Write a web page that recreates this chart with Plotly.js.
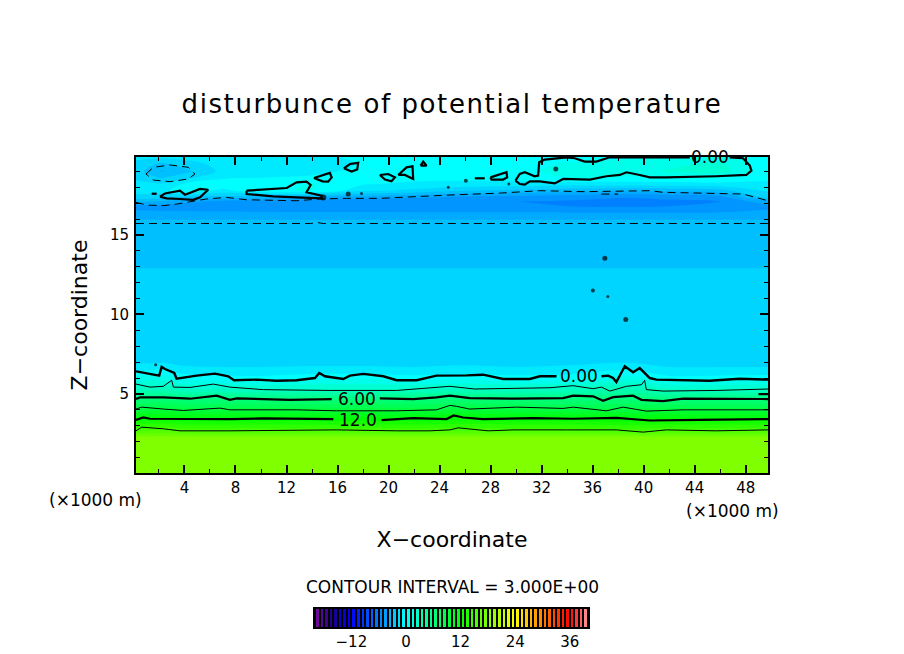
<!DOCTYPE html>
<html><head><meta charset="utf-8">
<script src="https://cdn.plot.ly/plotly-3.0.1.min.js"></script>
<style>
html,body{margin:0;padding:0;background:#fff}
.gtitle{letter-spacing:1.6px}
</style></head><body><div id="chart" style="width:904px;height:654px"></div>
<script>
// Temperature field (x in 1000 m, z in 1000 m)
const fieldX=[0.2,2.2,4,7,10,14,18,22,26,30,34,38.8,42,46,49.75];
const fieldY=[0.03,1,2.3,2.75,3.4,4,4.7,5.3,6,6.5,7,10,12.6,13.2,15,15.8,16.3,16.8,17.1,17.4,17.8,18.2,18.6,19,19.5,19.9];
const fieldZ=[
[17.8,18,17.7,18,18,17.8,18,18,17.8,18,18,17.8,18,18,17.7],
[17.7,17.9,17.9,18,18,18,17.9,18,17.8,18,17.9,18,18,17.9,17.8],
[17.6,17.7,17.6,17.6,17.6,17.6,17.6,17.6,17.6,17.6,17.6,17.6,17.6,17.6,17.6],
[15,15.4,15,15,15,15,15,15,15.1,15,15,14.8,15,15,15],
[12,12.2,12,12,12,12,12,12,12.3,12,12,11.9,12,12,12],
[9,9.3,9,9,9,9,9,9,9.3,9.1,9,8.9,9,9,9],
[6,6.3,6,6,6,6,6,6,6.2,6.1,6,6.2,5.9,6,6],
[2.7,3.1,2.6,2.6,2.5,2.5,2.5,2.6,2.7,2.7,2.8,3.4,2.5,2.6,2.6],
[0.9,1.1,0.2,-0.1,-0.2,0.2,0.3,-0.1,0.2,-0.1,0.1,0.9,-0.2,-0.1,0],
[-0.9,-0.3,-1.2,-1.3,-1.3,-1.2,-1.2,-1.3,-1.2,-1.3,-1.2,-0.5,-1.3,-1.3,-1.3],
[-1.7,-1.6,-1.8,-1.8,-1.8,-1.8,-1.8,-1.8,-1.7,-1.8,-1.7,-1.6,-1.8,-1.8,-1.8],
[-1.9,-1.9,-1.9,-1.9,-1.9,-1.9,-1.9,-1.9,-1.9,-1.9,-1.9,-1.9,-1.9,-1.9,-1.9],
[-2.2,-2.2,-2.2,-2.2,-2.2,-2.2,-2.2,-2.2,-2.2,-2.2,-2.2,-2.2,-2.2,-2.2,-2.2],
[-2.8,-2.8,-2.8,-2.8,-2.8,-2.8,-2.8,-2.8,-2.8,-2.8,-2.8,-2.8,-2.8,-2.8,-2.8],
[-3,-3,-3,-3,-3,-3,-3,-3,-3,-3,-3,-3,-3,-3,-3],
[-3.2,-3.2,-3.2,-3.2,-3.2,-3.2,-3.2,-3.2,-3.2,-3.2,-3.2,-3.2,-3.2,-3.2,-3.2],
[-4.2,-4.2,-4.2,-4.2,-4.2,-4.2,-4.2,-4.2,-4.2,-4.2,-4.2,-4.2,-4.2,-4.2,-4.2],
[-4.8,-4.9,-5,-5.1,-5.2,-5.3,-5.3,-5.4,-5.4,-5.4,-5.5,-5.6,-5.5,-5.4,-4.7],
[-3.3,-3.6,-4.2,-4.8,-5,-5.2,-5.3,-5.4,-5.5,-5.5,-5.6,-5.8,-5.7,-5.5,-3.8],
[-1.8,-2,-2.5,-2.7,-3.1,-3.4,-3.9,-4.2,-4.6,-4.8,-5.1,-5.4,-5.2,-4.8,-2],
[-1,-1,0.3,-0.8,0.3,0.6,-1.2,-1.7,-2.4,-2.7,-3,-3.2,-3.1,-2.8,-1.4],
[-1,-1.4,-0.4,0.3,-0.2,0.6,-0.4,-0.7,-0.8,-0.9,-1,-1,-0.9,-0.8,-0.7],
[-1.8,-2.6,-1.8,-0.7,-0.5,-0.3,-0.2,-0.2,-0.2,-0.1,0.5,0.4,0.4,0.5,-0.3],
[-2,-3.6,-2.8,-1.2,-0.9,-0.8,-0.2,-0.1,-0.1,0.1,0.9,1,1.6,2,-0.3],
[-1.8,-2.6,-2,-1,-0.9,-1.1,-0.4,-0.1,0,0.1,0.6,0.8,1.2,1.7,-0.2],
[-1.2,-1.2,-1,-0.5,-0.5,-0.6,-0.4,-0.2,-0.1,0,0.1,0.3,0.5,0.6,-0.2]
];
// Contour lines
const line0X=[0.2,1.03,2.02,2.21,2.47,3.2,3.38,4.95,6.39,7.43,7.88,9.65,11.22,12.79,14.23,14.57,15.01,16.45,16.97,18.02,19.59,20.63,22.2,23.76,24.81,26.11,27.41,28.98,31.08,31.86,33.17,null,36.69,37.22,37.6,37.86,38.52,39.17,39.69,40.48,41,45.18,47.53,49.75];
const line0Y=[6.42,6.28,6.15,6.7,6.57,6.32,5.96,6.15,6.28,6.11,5.86,5.9,5.83,5.86,6,6.32,6.11,5.94,6.15,6.26,6.11,5.86,5.86,6.15,6.15,6.17,6.21,5.94,5.94,6.11,6.11,null,6.11,6.15,6,5.75,6.74,6.36,6.63,6,5.9,5.83,5.96,5.9];
const line3X=[0.2,1.3,2.34,3,3.13,4.44,6.26,7.56,10.18,15.4,20.63,24.02,24.81,26.76,30.03,32.64,34.47,36.04,36.69,37.35,38.65,39.83,40.08,40.21,41.52,45.7,49.75];
const line3Y=[5.62,5.43,5.48,5.86,5.43,5.41,5.62,5.43,5.27,5.22,5.22,5.43,5.48,5.31,5.35,5.39,5.52,5.33,5.43,5.18,5.48,5.58,5.86,5.27,5.18,5.22,5.31];
const line6X=[0.2,0.52,2.34,4.44,6.52,7.56,8.09,12.26,15.54,null,19.32,21.93,23.76,24.81,26.37,30.03,33.69,34.47,36.04,36.82,37.6,39.17,39.83,41.52,43.09,47.01,49.75,null,49,49.75];
const line6Y=[4.68,4.78,4.78,4.7,4.89,4.63,4.72,4.63,4.68,null,4.72,4.68,4.78,4.89,4.74,4.7,4.74,4.89,4.85,4.57,4.8,4.89,4.63,4.55,4.7,4.68,4.68,null,4.99,4.99];
const line9X=[0.2,0.65,2.34,3.91,6.79,7.56,12.79,15.92,20.63,23.76,24.81,25.33,26.37,30.03,33.69,34.47,37.08,38.39,40.21,43.09,49.75];
const line9Y=[4.05,4.17,4.05,3.96,4.11,4,4,3.94,3.94,4,4.28,4.22,4.05,4.17,4.09,4.17,3.94,4.17,3.92,4,4];
const line12X=[0.2,0.77,1.3,3.65,4.95,7.56,10.18,15.67,null,19.45,21.93,24.55,25.1,25.85,27.41,31.33,34.47,37.86,40.48,44.4,49.75];
const line12Y=[3.37,3.52,3.44,3.42,3.44,3.42,3.46,3.42,null,3.35,3.48,3.42,3.65,3.52,3.42,3.48,3.44,3.5,3.33,3.37,3.42];
const line15X=[0.2,0.65,2.34,3.65,7.56,12.79,15.92,20.63,23.24,24.81,25.46,27.81,29.77,33.95,37.86,39.96,41.78,45.7,49.75];
const line15Y=[2.68,2.91,2.81,2.68,2.68,2.74,2.74,2.68,2.68,2.74,2.87,2.68,2.74,2.74,2.74,2.6,2.74,2.68,2.74];
// Closed zero contours in the upper layer, separated by nulls
const topZeroX=[2.08,2.47,3.65,4.04,5.22,5.86,5.22,4.69,3.65,2.6,2.08,null,
8.87,10.05,12.01,12.79,13.57,13.89,13.57,14.75,14.75,12.79,10.96,8.87,8.87,null,
14.15,14.88,15.4,15.54,15.27,14.82,14.15,null,
16.5,16.97,17.62,17.54,17.1,16.5,null,
19.32,19.97,20.5,20.23,19.72,19.32,null,
20.76,21.41,21.88,21.93,21.28,20.76,null,
22.51,22.72,22.98,22.51,null,
26.76,27.54,null,
27.99,28.6,29.25,29.3,28.98,28.07,27.99,null,
29.95,30.29,30.68,31.46,31.73,31.81,32.25,33.95,34.6,35.38,36.29,37.35,41.78,43.62,null,46.75,47.79,48.32,48.45,48.05,45.7,41.78,40.48,39.69,38.65,38.13,37.08,35.78,33.69,33.03,31.86,31.08,30.68,30.29,29.95,null,
1.43,1.82];
const topZeroY=[17.4,17.61,17.78,17.53,17.89,17.84,17.36,17.21,17.26,17.3,17.4,null,
17.78,17.84,17.95,18.31,18.35,18.14,17.68,17.47,17.3,17.36,17.42,17.57,17.78,null,
18.58,18.79,18.9,18.62,18.35,18.37,18.58,null,
19.19,19.46,19.53,19.11,18.98,19.19,null,
18.77,18.83,18.62,18.37,18.48,18.77,null,
18.77,19.25,19.32,18.52,18.77,18.77,null,
19.36,19.61,19.36,19.36,null,
18.56,18.56,null,
18.62,18.77,18.94,18.62,18.48,18.48,18.62,null,
18.41,18.83,18.94,18.69,18.73,19.57,19.74,19.88,19.82,19.61,19.61,19.88,19.88,19.88,null,19.88,19.82,19.36,19.04,18.77,18.69,18.62,18.62,18.77,18.94,18.77,18.69,18.48,18.52,18.24,18.37,18.37,18.16,18.2,18.41,null,
17.59,17.59];
const dotX=[14.88,16.84,17.88,24.68,26.06,29.43,33.11,36.96,36.02,37.19,38.6,1.74];
const dotY=[17.36,17.57,17.61,17.99,18.41,18.2,19.15,13.53,11.51,11.13,9.68,6.84];
const dotSize=[6,5,3,3,4,3,5,5,4,3,5,3];
// Dashed contours of -3
const dashX=[0.2,1.03,2.34,3.38,5.73,7.3,8.87,12.79,14.62,16.71,19.32,22.2,24.81,28.72,31.86,35.25,40.48,41.52,47.79,49.75,null,0.2,13.89,14.39,14.88,49.75,null,0.98,1.56,2.87,4.3,4.82,4.3,2.87,1.56,0.98,null,36.69,38];
const dashY=[17.05,16.88,16.84,16.94,17.26,17.36,17.21,17.15,17.26,17.3,17.3,17.42,17.51,17.63,17.78,17.72,17.78,17.68,17.57,17.15,null,15.72,15.72,15.78,15.72,15.72,null,18.83,19.25,19.4,19.25,18.83,18.52,18.35,18.45,18.83,null,17.57,17.57];
// Colour bar
const barLevels=[-19.5,-18.5,-17.5,-16.5,-15.5,-14.5,-13.5,-12.5,-11.5,-10.5,-9.5,-8.5,-7.5,-6.5,-5.5,-4.5,-3.5,-2.5,-1.5,-0.5,0.5,1.5,2.5,3.5,4.5,5.5,6.5,7.5,8.5,9.5,10.5,11.5,12.5,13.5,14.5,15.5,16.5,17.5,18.5,19.5,20.5,21.5,22.5,23.5,24.5,25.5,26.5,27.5,28.5,29.5,30.5,31.5,32.5,33.5,34.5,35.5,36.5,37.5,38.5,39.5];
const barTicks=[-12,0,12,24,36];
const xTicks=[4,8,12,16,20,24,28,32,36,40,44,48];
const zTicks=[5,10,15];
const rainbow=[[0,'#7a0a9a'],[0.0667,'#1a008f'],[0.1333,'#0000ff'],[0.3333,'#00ffff'],[0.5333,'#00ff00'],[0.7333,'#ffff00'],[0.9333,'#ff0000'],[1,'#ff9aa0']];
const FONT='"DejaVu Sans", sans-serif';

function cline(xs,ys,w,dash){return {type:'scatter',mode:'lines',x:xs,y:ys,xaxis:'x',yaxis:'y',hoverinfo:'skip',showlegend:false,
  line:{color:'#000',width:w,dash:dash||'solid',shape:'linear'},connectgaps:false};}

const traces=[
 {type:'contour',x:fieldX,y:fieldY,z:fieldZ,colorscale:rainbow,zmin:-20,zmax:40,showscale:false,autocontour:false,
  contours:{coloring:'fill',start:-20.5,end:40.5,size:1,showlines:false},line:{width:0},hoverinfo:'skip'},
 cline(line15X,line15Y,1),cline(line12X,line12Y,2.2),cline(line9X,line9Y,1),cline(line6X,line6Y,2.2),cline(line3X,line3Y,1),cline(line0X,line0Y,2.4),
 cline(topZeroX,topZeroY,2.2),cline(dashX,dashY,1,'8px,5px'),
 {type:'scatter',mode:'markers',x:dotX,y:dotY,marker:{color:'#000',size:dotSize,line:{width:0}},showlegend:false,hoverinfo:'skip'},
 {type:'heatmap',x:barLevels,y:[0],z:[barLevels],xaxis:'x2',yaxis:'y2',colorscale:rainbow,zmin:-20,zmax:40,showscale:false,xgap:2,hoverinfo:'skip'}
];
const axisText={family:FONT,size:15,color:'#000'};
const labelFont={family:FONT,size:17,color:'#000'};
const layout={width:904,height:654,margin:{l:136,r:136,t:157,b:27},paper_bgcolor:'#fff',plot_bgcolor:'#000',showlegend:false,
 title:{text:'disturbunce of potential temperature',font:{family:FONT,size:26,color:'#000'},x:0.5,xanchor:'center',y:0.841,yanchor:'middle'},
 xaxis:{domain:[0,1],anchor:'y',range:[0.2,49.75],tickmode:'array',tickvals:xTicks,ticktext:xTicks.map(String),ticks:'inside',ticklen:8,tickwidth:2,tickcolor:'#000',
   mirror:'allticks',showline:true,linecolor:'#000',linewidth:2,showgrid:false,zeroline:false,tickfont:axisText,
   minor:{tickmode:'array',tickvals:[2,6,10,14,18,22,26,30,34,38,42,46],ticks:'inside',ticklen:4,tickwidth:1,tickcolor:'#000',showgrid:false},
   title:{text:'X\u2212coordinate',font:{family:FONT,size:22,color:'#000'},standoff:36}},
 yaxis:{domain:[0.3277,1],anchor:'x',range:[0.03,19.9],tickmode:'array',tickvals:zTicks,ticktext:zTicks.map(String),ticks:'inside',ticklen:8,tickwidth:2,tickcolor:'#000',
   mirror:'allticks',showline:true,linecolor:'#000',linewidth:2,showgrid:false,zeroline:false,tickfont:axisText,ticklabelstandoff:2,
   minor:{tickmode:'array',tickvals:[1,2,3,4,6,7,8,9,11,12,13,14,16,17,18,19],ticks:'inside',ticklen:4,tickwidth:1,tickcolor:'#000',showgrid:false},
   title:{text:'Z\u2212coordinate',font:{family:FONT,size:22,color:'#000'},standoff:16}},
 xaxis2:{domain:[0.2832,0.7152],anchor:'y2',range:[-20,40],tickmode:'array',tickvals:barTicks,ticktext:barTicks.map(v=>v<0?'\u2212'+Math.abs(v):String(v)),ticks:'',
   showline:true,mirror:true,linecolor:'#000',linewidth:2,showgrid:false,zeroline:false,tickfont:axisText},
 yaxis2:{domain:[0,0.0383],anchor:'x2',range:[-0.5,0.5],showticklabels:false,ticks:'',showline:true,mirror:true,linecolor:'#000',linewidth:2,showgrid:false,zeroline:false},
 annotations:[
  {text:'0.00',x:34.93,y:6.15,xref:'x',yref:'y',showarrow:false,font:labelFont},
  {text:'6.00',x:17.53,y:4.7,xref:'x',yref:'y',showarrow:false,font:labelFont},
  {text:'12.0',x:17.6,y:3.37,xref:'x',yref:'y',showarrow:false,font:labelFont},
  {text:'0.00',x:45.2,y:19.89,xref:'x',yref:'y',showarrow:false,font:labelFont},
  {text:'(\u00d71000 m)',x:-0.1408,y:0.2702,xref:'paper',yref:'paper',xanchor:'left',yanchor:'middle',showarrow:false,font:labelFont},
  {text:'(\u00d71000 m)',x:0.9446,y:0.2468,xref:'paper',yref:'paper',xanchor:'center',yanchor:'middle',showarrow:false,font:labelFont},
  {text:'CONTOUR INTERVAL = 3.000E+00',x:0.5,y:0.0851,xref:'paper',yref:'paper',xanchor:'center',yanchor:'middle',showarrow:false,font:{family:FONT,size:17,color:'#000'}}
 ]};
Plotly.newPlot('chart',traces,layout,{displayModeBar:false,staticPlot:true});
</script></body></html>
